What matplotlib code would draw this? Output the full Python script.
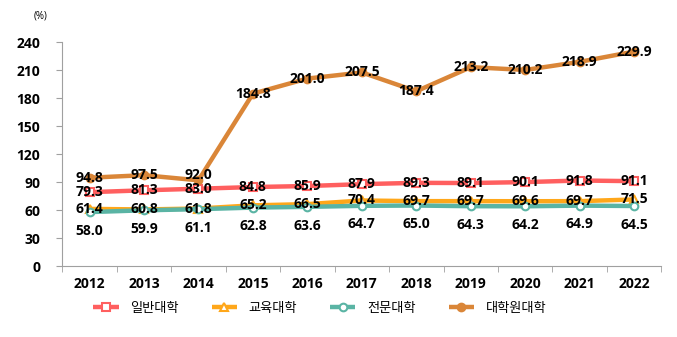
import numpy as np
import matplotlib.pyplot as plt

plt.rcParams['font.family'] = ['Noto Sans CJK KR', 'DejaVu Sans']

years = ['2012', '2013', '2014', '2015', '2016', '2017', '2018', '2019', '2020', '2021', '2022']
general = [79.3, 81.3, 83.0, 84.8, 85.9, 87.9, 89.3, 89.1, 90.1, 91.8, 91.1]
education = [61.4, 60.8, 61.8, 65.2, 66.5, 70.4, 69.7, 69.7, 69.6, 69.7, 71.5]
college = [58.0, 59.9, 61.1, 62.8, 63.6, 64.7, 65.0, 64.3, 64.2, 64.9, 64.5]
graduate = [94.8, 97.5, 92.0, 184.8, 201.0, 207.5, 187.4, 213.2, 210.2, 218.9, 229.9]
names = ['일반대학', '교육대학', '전문대학', '대학원대학']

colors = ['#FF5F5F', '#FFA71A', '#5AB4A4', '#DA8638']
markers = ['s', '^', 'o', 'o']
mfc = ['white', 'white', 'white', '#DA8638']
label_dy = [0, 0, -20, 0]
numfont = 'Open Sans'

fig = plt.figure(figsize=(6.77, 3.37), dpi=100)
ax = fig.add_axes([0.092, 0.21, 0.885, 0.665])
x = np.arange(len(years))

for vals, c, m, f, n, dy in zip([general, education, college, graduate], colors, markers, mfc, names, label_dy):
    ax.plot(x, vals, color=c, lw=3.2, marker=m, ms=5.5, mfc=f, mec=c, mew=1.5, label=n,
            solid_capstyle='butt')
    for xi, v in zip(x, vals):
        extra = 6 if (n == '대학원대학' and xi == 2) else 0
        ax.text(xi, v + dy + extra, '%.1f' % v, ha='center', va='center', fontsize=10,
                fontweight='bold', family=numfont, color='black', zorder=5)

ax.set_xlim(-0.5, len(years) - 0.5)
ax.set_ylim(0, 240)
ax.set_yticks(range(0, 241, 30))
ax.set_xticks(x)
ax.set_xticklabels(years)
ax.set_xticks(np.arange(-0.5, len(years), 1), minor=True)
ax.tick_params(axis='x', which='major', length=0, pad=8)
ax.tick_params(axis='x', which='minor', length=4, color='#A0A0A0')
ax.tick_params(axis='y', length=4, color='#A0A0A0', pad=12)
for lab in ax.get_xticklabels() + ax.get_yticklabels():
    lab.set_fontweight('bold')
    lab.set_fontsize(10)
    lab.set_family(numfont)
for s in ['top', 'right']:
    ax.spines[s].set_visible(False)
for s in ['left', 'bottom']:
    ax.spines[s].set_color('#A0A0A0')

fig.text(0.05, 0.945, '(%)', fontsize=7, family=numfont)

ax.legend(loc='upper center', bbox_to_anchor=(0.43, -0.105), ncol=4, frameon=False,
          fontsize=9.5, handlelength=1.9, columnspacing=2.5, handletextpad=0.9)

fig.savefig('out.png', dpi=100)
